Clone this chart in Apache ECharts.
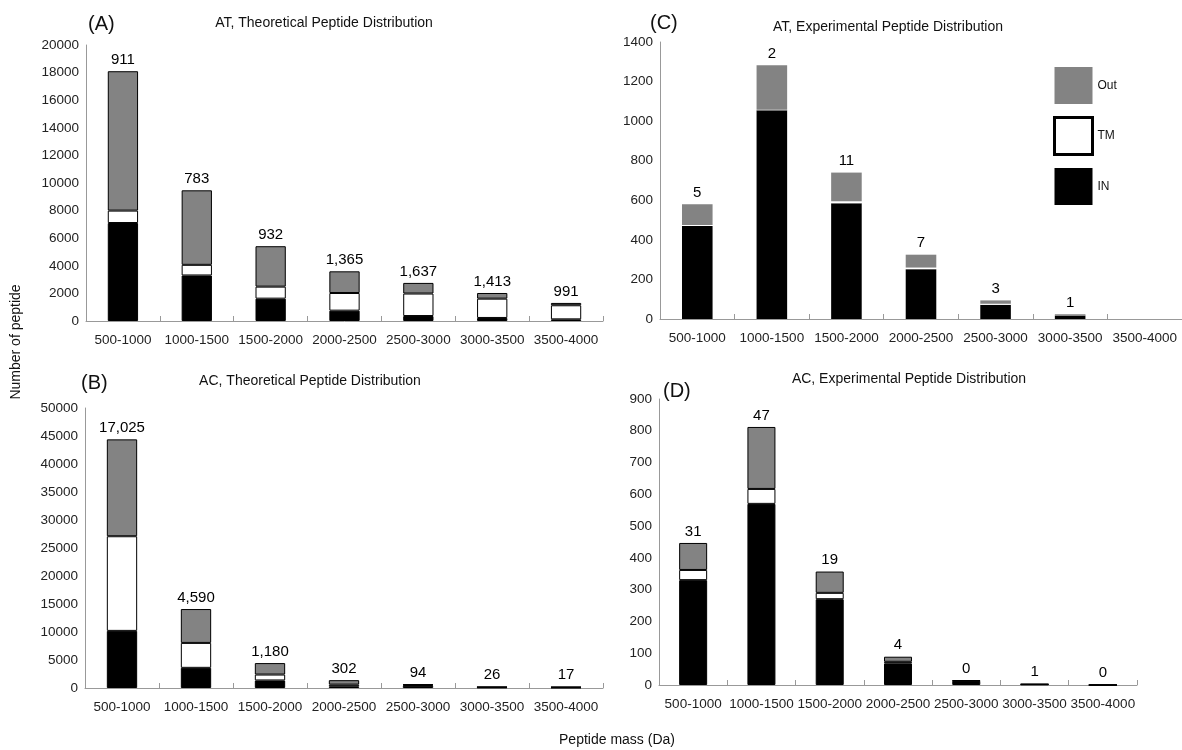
<!DOCTYPE html>
<html>
<head>
<meta charset="utf-8">
<script src="https://cdn.jsdelivr.net/npm/echarts@6/dist/echarts.min.js"></script>
<style>
  html, body { margin: 0; padding: 0; background: #fff; }
  #chart { width: 1182px; height: 750px; }
</style>
</head>
<body>
<div id="chart"></div>
<script>
// ---- Data ----
const categories = ['500-1000','1000-1500','1500-2000','2000-2500','2500-3000','3000-3500','3500-4000'];

// (A) AT, Theoretical
const inA  = [7100, 3300, 1620, 750, 360, 220, 120];
const tmA  = [900, 770, 870, 1280, 1630, 1400, 1020];
const outA = [10100, 5400, 2930, 1570, 770, 410, 170];
const labelsA = ['911','783','932','1,365','1,637','1,413','991'];

// (B) AC, Theoretical
const inB  = [10200, 3600, 1350, 300, 400, 100, 60];
const tmB  = [16900, 4450, 1050, 300, 150, 50, 80];
const outB = [17300, 6050, 2050, 800, 100, 50, 60];
const labelsB = ['17,025','4,590','1,180','302','94','26','17'];

// (C) AT, Experimental
const inC  = [470, 1055, 585, 252, 72, 18, 0];
const tmC  = [5, 3, 10, 8, 5, 1, 0];
const outC = [105, 225, 145, 65, 17, 5, 0];
const labelsC = ['5','2','11','7','3','1',''];

// (D) AC, Experimental
const inD  = [330, 570, 270, 68, 12, 2, 0];
const tmD  = [32, 47, 20, 5, 1, 0, 0];
const outD = [85, 195, 67, 16, 2, 1, 0];
const labelsD = ['31','47','19','4','0','1','0'];

// ---- Layout / style ----
const FONT = '"Liberation Sans", Arial, sans-serif';
const GRAY = '#838383';

const panels = [
  { grid: {left: 86, top: 45, width: 517, height: 276}, max: 20000, interval: 2000,
    inV: inA, tmV: tmA, outV: outA, labels: labelsA, border: 1 },
  { grid: {left: 660, top: 42, width: 522, height: 277}, max: 1400, interval: 200,
    inV: inC, tmV: tmC, outV: outC, labels: labelsC, border: 0 },
  { grid: {left: 85, top: 408, width: 518, height: 280}, max: 50000, interval: 5000,
    inV: inB, tmV: tmB, outV: outB, labels: labelsB, border: 1 },
  { grid: {left: 659, top: 399, width: 478, height: 286}, max: 900, interval: 100,
    inV: inD, tmV: tmD, outV: outD, labels: labelsD, border: 1 }
];

const grids = [], xAxes = [], yAxes = [], series = [];
panels.forEach((p, i) => {
  grids.push(Object.assign({containLabel: false}, p.grid));
  xAxes.push({
    type: 'category', gridIndex: i, data: categories,
    axisLine: {lineStyle: {color: '#999', width: 1}},
    axisTick: {show: true, inside: true, length: 5, lineStyle: {color: '#999'}},
    axisLabel: {interval: 0, margin: 12, fontSize: 13.5, color: '#222', fontFamily: FONT}
  });
  yAxes.push({
    type: 'value', gridIndex: i, min: 0, max: p.max, interval: p.interval,
    splitLine: {show: false},
    axisLine: {show: true, lineStyle: {color: '#999', width: 1}},
    axisTick: {show: false},
    axisLabel: {margin: 7, fontSize: 13.5, color: '#222', fontFamily: FONT,
      formatter: (v) => String(v)}
  });
  const bc = p.border ? '#000' : 'transparent';
  const common = {type: 'bar', xAxisIndex: i, yAxisIndex: i, stack: 'p' + i,
    barWidth: '41%', animation: false};
  series.push(Object.assign({}, common, {name: 'IN', data: p.inV,
    itemStyle: {color: '#000', borderColor: bc, borderWidth: p.border}}));
  series.push(Object.assign({}, common, {name: 'TM', data: p.tmV,
    itemStyle: {color: '#fff', borderColor: bc, borderWidth: p.border}}));
  const labs = p.labels;
  series.push(Object.assign({}, common, {name: 'Out', data: p.outV,
    itemStyle: {color: GRAY, borderColor: bc, borderWidth: p.border},
    label: {show: true, position: 'top', distance: 4, fontSize: 15, color: '#000',
      fontFamily: FONT, formatter: (q) => labs[q.dataIndex]}}));
});

function txt(text, x, y, size, align, rot) {
  return {type: 'text', x: x, y: y, rotation: rot || 0, z: 100,
    style: {text: text, fill: '#111', font: size + 'px ' + FONT,
      textAlign: align || 'left', align: align || 'left',
      textVerticalAlign: 'middle', verticalAlign: 'middle'}};
}

const option = {
  backgroundColor: '#fff',
  animation: false,
  grid: grids,
  xAxis: xAxes,
  yAxis: yAxes,
  series: series,
  legend: {
    orient: 'vertical', left: 1048, top: 62,
    icon: 'rect',
    itemWidth: 38, itemHeight: 37, itemGap: 12,
    textStyle: {fontSize: 12, color: '#111', fontFamily: FONT},
    selectedMode: false,
    data: [
      {name: 'Out', icon: 'rect', itemStyle: {color: GRAY, borderWidth: 0}},
      {name: 'TM', icon: 'rect', itemStyle: {color: '#fff', borderColor: '#000', borderWidth: 3}},
      {name: 'IN', icon: 'rect', itemStyle: {color: '#000', borderWidth: 0}}
    ]
  },
  graphic: [
    txt('(A)', 88, 24, 20, 'left'),
    txt('AT, Theoretical Peptide Distribution', 324, 23, 14, 'center'),
    txt('(C)', 650, 23, 20, 'left'),
    txt('AT, Experimental Peptide Distribution', 888, 27, 14, 'center'),
    txt('(B)', 81, 383, 20, 'left'),
    txt('AC, Theoretical Peptide Distribution', 310, 381, 14, 'center'),
    txt('(D)', 663, 391, 20, 'left'),
    txt('AC, Experimental Peptide Distribution', 909, 379, 14, 'center'),
    txt('Number of peptide', 16, 342, 14, 'center', Math.PI / 2),
    txt('Peptide mass (Da)', 617, 740, 14, 'center')
  ]
};

const chart = echarts.init(document.getElementById('chart'), null, {renderer: 'canvas'});
chart.setOption(option);
</script>
</body>
</html>
